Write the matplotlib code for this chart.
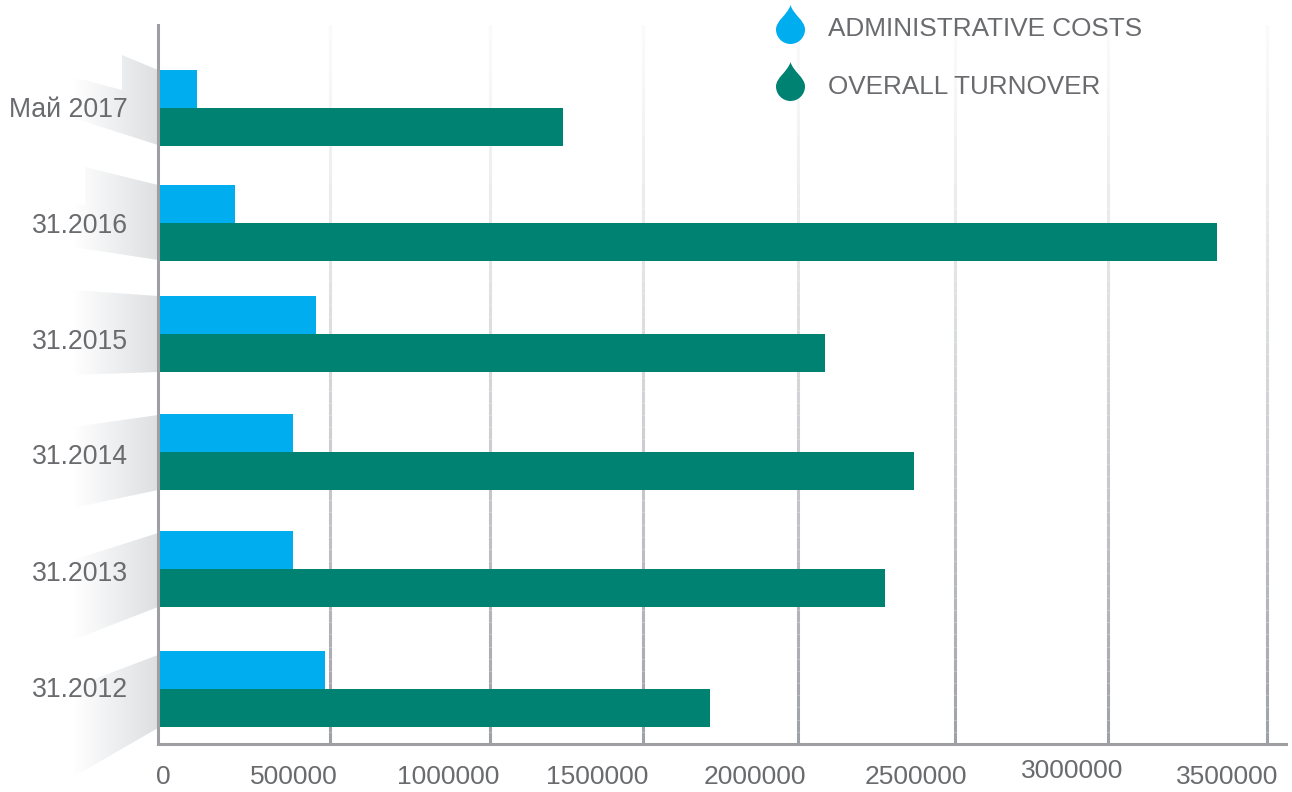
"""
Administrative costs vs overall turnover, horizontal bars
"""

import matplotlib
matplotlib.use('Agg')
import matplotlib.pyplot as plt
import numpy as np
from matplotlib.collections import LineCollection
from matplotlib.patches import PathPatch, Polygon
from matplotlib.path import Path
from matplotlib.transforms import ScaledTranslation

# data
periods = ['Май 2017', '31.2016', '31.2015', '31.2014', '31.2013', '31.2012']
admin_costs = [113000, 224000, 459000, 392000, 392000, 485000]
turnover = [1239000, 3343000, 2086000, 2369000, 2277000, 1716000]
x_ticks = [0, 500000, 1000000, 1500000, 2000000, 2500000, 3000000, 3500000]
series_names = ['ADMINISTRATIVE COSTS', 'OVERALL TURNOVER']

# layout, in pixels of the 1292x792 picture
W, H = 1292, 792
AX_LEFT, AX_RIGHT, AX_TOP, AX_BOTTOM = 158, 1286, 25, 744
grid_px = [158, 330, 490, 643, 798, 955, 1108, 1267]
group_px = [108, 223, 334, 452, 569, 689]
label_px = [107, 223, 339, 454, 571, 687]
tick_shift = [(5, 0), (-36, 0), (-42, 0), (-46, 0), (-43, 0), (-39, 0), (-36, 6), (-40, 0)]
BAR_H = 38

wedges = [
    [(158, 70), (122, 55), (122, 90), (73, 77), (73, 118), (158, 145)],
    [(158, 185), (85, 167), (85, 205), (73, 205), (73, 247), (158, 260)],
    [(158, 296), (73, 290), (73, 375), (158, 372)],
    [(158, 415), (73, 427), (73, 508), (158, 490)],
    [(158, 533), (73, 560), (73, 640), (158, 607)],
    [(158, 655), (73, 687), (73, 777), (158, 728)],
]

BLUE = '#00aeef'
GREEN = '#008272'
TEXT = '#6a6b6e'
AXIS = '#9d9fa2'

plt.rcParams['font.family'] = ['Liberation Sans', 'DejaVu Sans']


def draw_drop(ax, cx, top, bottom, color):
    """Teardrop marker for the legend"""
    r = 14.5
    cy = bottom - r
    k = r * 0.55
    verts = [
        (cx, top),
        (cx + 3, top + 10), (cx + r, cy - 9), (cx + r, cy),
        (cx + r, cy + k), (cx + k, bottom), (cx, bottom),
        (cx - k, bottom), (cx - r, cy + k), (cx - r, cy),
        (cx - r, cy - 9), (cx - 3, top + 10), (cx, top),
    ]
    codes = [Path.MOVETO] + [Path.CURVE4] * 12
    ax.add_patch(PathPatch(Path(verts, codes), facecolor=color, edgecolor='none', zorder=5))


fig = plt.figure(figsize=(W / 100, H / 100), dpi=100, facecolor='white')

# pixel-space layer behind the chart for the grey ribbons
bg = fig.add_axes([0, 0, 1, 1], zorder=0)
rgba = np.zeros((1, 128, 4))
rgba[..., :3] = np.array([0.87, 0.875, 0.885])
rgba[..., 3] = np.linspace(0, 1, 128)
for pts in wedges:
    xs = [p[0] for p in pts]
    im = bg.imshow(rgba, extent=(min(xs), max(xs), H, 0), aspect='auto', zorder=1)
    im.set_clip_path(Polygon(pts, transform=bg.transData))
bg.set_xlim(0, W)
bg.set_ylim(H, 0)
bg.axis('off')

ax = fig.add_axes([AX_LEFT / W, 1 - AX_BOTTOM / H, (AX_RIGHT - AX_LEFT) / W,
                   (AX_BOTTOM - AX_TOP) / H], zorder=1)
ax.patch.set_alpha(0)

# gridlines in the source are hand placed, so the value axis follows them
scale_vals = np.array(x_ticks + [3560000], dtype=float)
scale_px = np.array(grid_px + [AX_RIGHT], dtype=float)
ax.set_xscale('function', functions=(lambda v: np.interp(v, scale_vals, scale_px),
                                     lambda p: np.interp(p, scale_px, scale_vals)))
ax.set_xlim(0, scale_vals[-1])
ax.set_ylim(AX_BOTTOM, AX_TOP)

# gridlines fade out towards the top, opaque shades so the pieces do not show
steps = np.linspace(AX_BOTTOM, AX_TOP, 60)
shade = np.array([0.62, 0.63, 0.65])
for tick in x_ticks[1:]:
    segs = [[(tick, a), (tick, b)] for a, b in zip(steps[:-1], steps[1:])]
    amount = ((steps[:-1] - AX_TOP) / (AX_BOTTOM - AX_TOP)) ** 1.3 * 0.95 + 0.05
    colors = [tuple(1 - (1 - shade) * a) for a in amount]
    ax.add_collection(LineCollection(segs, colors=colors, linewidths=2.2,
                                     capstyle='butt', zorder=1))

group_y = np.array(group_px, dtype=float)
ax.barh(group_y - BAR_H / 2, admin_costs, height=BAR_H, color=BLUE, zorder=3)
ax.barh(group_y + BAR_H / 2, turnover, height=BAR_H, color=GREEN, zorder=3)

for side in ('top', 'right'):
    ax.spines[side].set_visible(False)
for side in ('left', 'bottom'):
    ax.spines[side].set_color(AXIS)
    ax.spines[side].set_linewidth(2.2)
    ax.spines[side].set_zorder(4)

ax.set_yticks(label_px, periods)
ax.tick_params(axis='y', length=0, pad=21.5, labelsize=19.2, labelcolor=TEXT)
ax.set_xticks(x_ticks, [str(t) for t in x_ticks])
ax.xaxis.set_minor_locator(plt.NullLocator())
ax.tick_params(axis='x', length=0, pad=15, labelsize=19, labelcolor=TEXT)
for label, (dx, dy) in zip(ax.get_xticklabels(), tick_shift):
    label.set_transform(label.get_transform() + ScaledTranslation(dx / 100, dy / 100, fig.dpi_scale_trans))

# legend
top = fig.add_axes([0, 0, 1, 1], zorder=2)
top.set_xlim(0, W)
top.set_ylim(H, 0)
top.axis('off')
for name, color, y0, y1, ty in zip(series_names, [BLUE, GREEN], [5, 62], [44, 101], [29, 87]):
    draw_drop(top, 790.5, y0, y1, color)
    top.text(828, ty, name, color=TEXT, fontsize=18.8, va='center', ha='left')

fig.savefig('out.png', dpi=100, facecolor='white')
